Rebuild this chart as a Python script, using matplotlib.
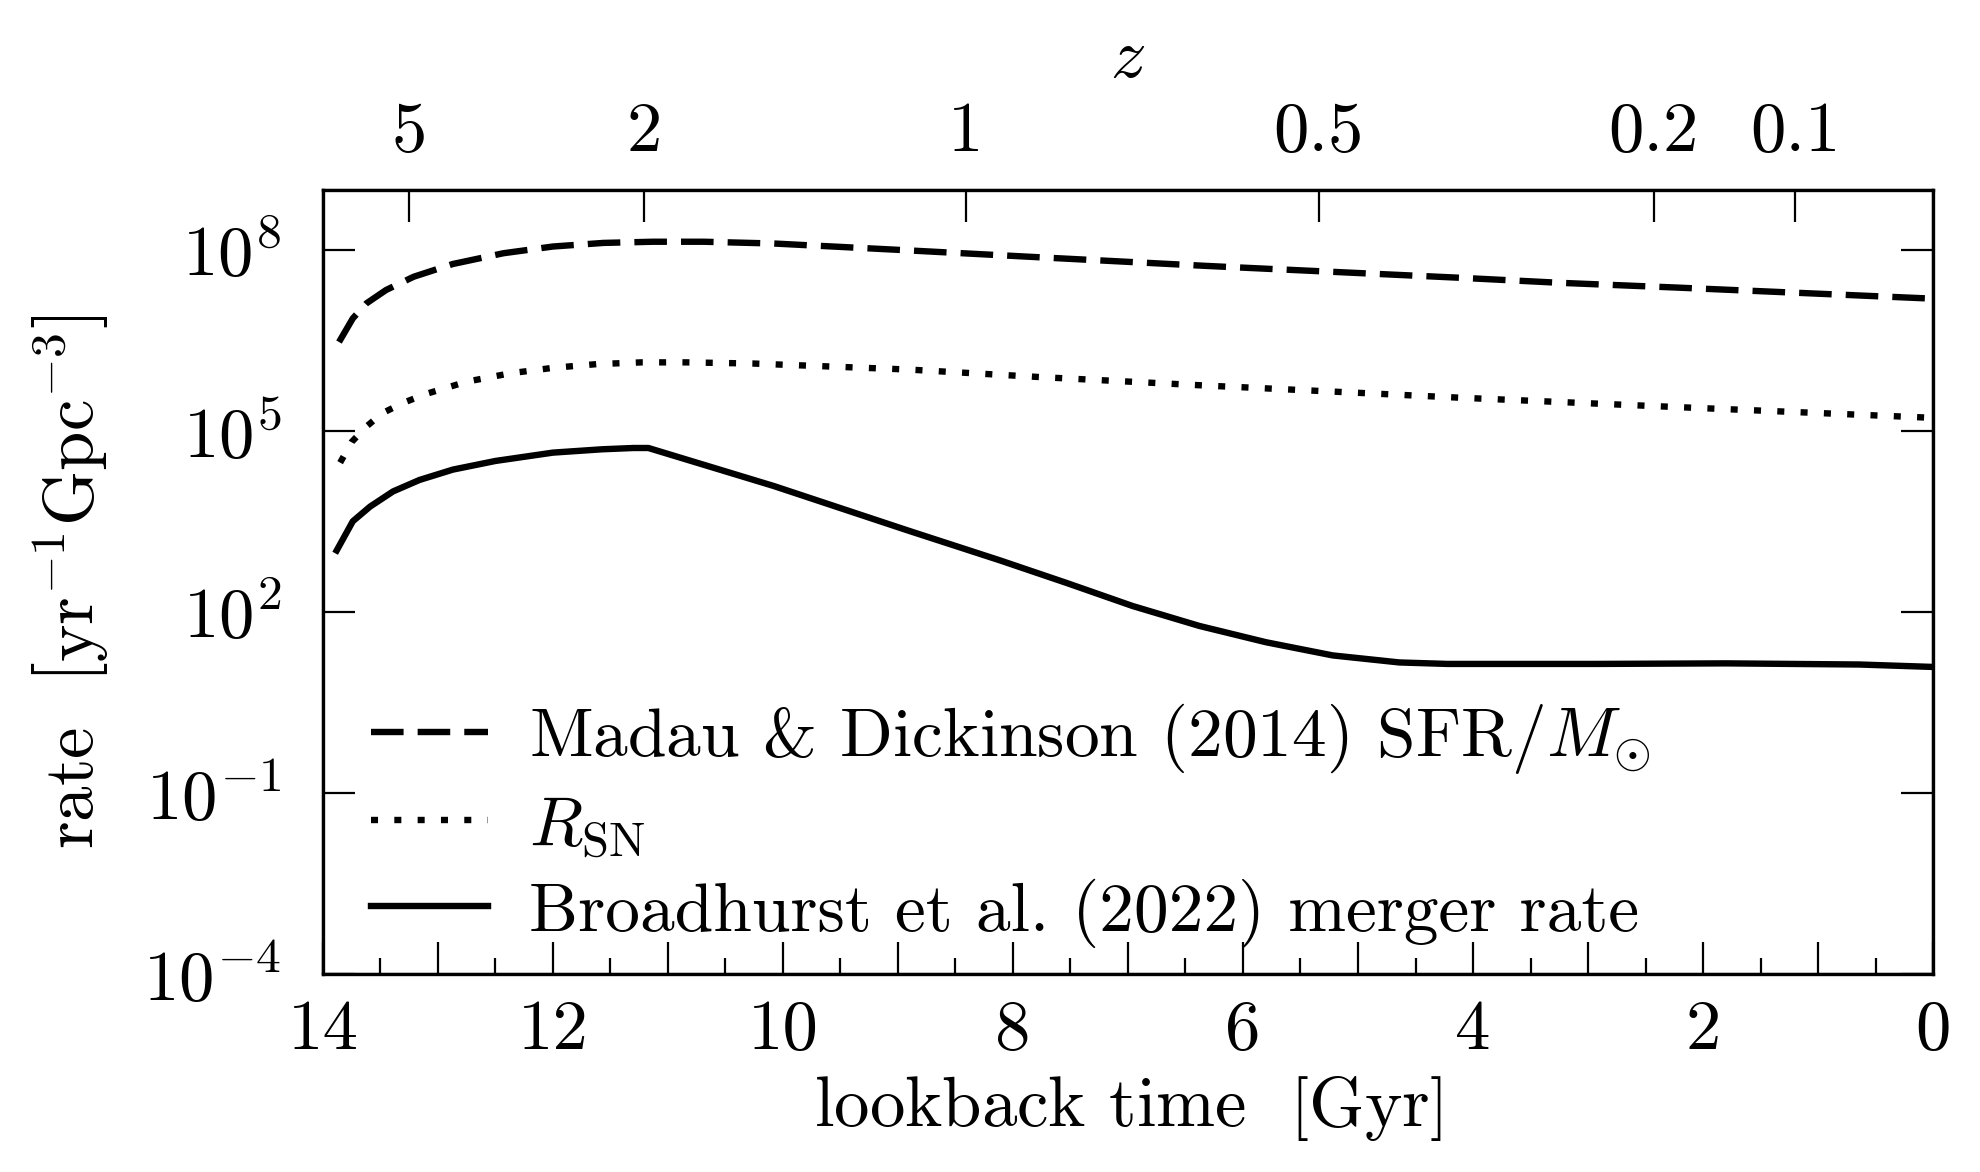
import matplotlib
matplotlib.use("Agg")
import matplotlib.pyplot as plt
from matplotlib.ticker import FixedLocator, MultipleLocator, FuncFormatter, LogFormatterMathtext, NullLocator

plt.rcParams['font.family'] = 'serif'
plt.rcParams['font.serif'] = ['cmr10']
plt.rcParams['mathtext.fontset'] = 'cm'
plt.rcParams['axes.formatter.use_mathtext'] = True
plt.rcParams['axes.unicode_minus'] = False

# ---------------- data ----------------
# Madau & Dickinson (2014) SFR / M_sun  [yr^-1 Gpc^-3]
sfr_t = [13.86, 13.74, 13.62, 13.45, 13.21, 12.87, 12.43, 12.00, 11.56, 11.13,
         10.69, 10.08, 9.03, 7.87, 6.33, 5.97, 4.09, 3.25, 2.23, 0.0]
sfr_rate = [3.0e6, 7.4e6, 1.32e7, 2.19e7, 3.63e7, 5.9e7, 8.9e7, 1.15e8, 1.32e8, 1.38e8,
            1.38e8, 1.29e8, 1.02e8, 7.8e7, 5.5e7, 5.1e7, 3.47e7, 2.88e7, 2.40e7, 1.57e7]

# R_SN
rsn_t = [13.85, 13.75, 13.62, 13.48, 13.30, 13.11, 12.75, 12.37, 12.00, 11.62,
         11.23, 10.84, 10.26, 8.91, 7.78, 6.25, 6.06, 4.14, 2.22, 0.0]
rsn_rate = [3.0e4, 6.6e4, 1.20e5, 2.0e5, 2.95e5, 4.1e5, 6.6e5, 9.1e5, 1.12e6, 1.29e6,
            1.38e6, 1.38e6, 1.32e6, 1.05e6, 7.9e5, 5.6e5, 5.4e5, 3.6e5, 2.5e5, 1.66e5]

# Broadhurst et al. (2022) merger rate
mrg_t = [13.88, 13.74, 13.59, 13.39, 13.16, 12.87, 12.50, 12.00, 11.57, 11.30,
         11.17, 10.08, 8.91, 8.11, 7.53, 6.96, 6.38, 5.80, 5.22, 4.64,
         4.22, 3.80, 2.93, 1.80, 0.64, 0.0]
mrg_rate = [1.05e3, 3.2e3, 5.6e3, 1.0e4, 1.55e4, 2.3e4, 3.2e4, 4.4e4, 5.0e4, 5.25e4,
            5.25e4, 1.23e4, 2.24e3, 716.0, 302.0, 126.0, 58.9, 31.6, 19.1, 14.6,
            13.8, 13.8, 13.8, 14.1, 13.5, 12.3]

# top redshift axis: labels and their lookback-time positions [Gyr]
z_labels = ['5', '2', '1', '0.5', '0.2', '0.1']
z_lookback = [13.25, 11.21, 8.41, 5.34, 2.43, 1.20]

y_ticks = [1e-4, 1e-1, 1e2, 1e5, 1e8]

labels = [r'Madau & Dickinson (2014) SFR$/M_{\odot}$',
          r'$R_{\mathrm{SN}}$',
          r'Broadhurst et al. (2022) merger rate']

# ---------------- figure ----------------
fig = plt.figure(figsize=(9.905, 5.86), dpi=200)
ax = fig.add_axes([0.163, 0.169, 0.8128, 0.669])

lw = 2.3
ax.plot(sfr_t, sfr_rate, color='black', lw=lw, dashes=(5.1, 2.2), label=labels[0])
ax.plot(rsn_t, rsn_rate, color='black', lw=lw, dashes=(1.1, 2.55), label=labels[1])
ax.plot(mrg_t, mrg_rate, color='black', lw=lw, label=labels[2])

ax.set_yscale('log')
ax.set_xlim(14, 0)
ax.set_ylim(1e-4, 1e9)

fs = 25.5
ax.yaxis.set_major_locator(FixedLocator(y_ticks))
ax.yaxis.set_major_formatter(LogFormatterMathtext())
ax.yaxis.set_minor_locator(NullLocator())
ax.xaxis.set_major_locator(MultipleLocator(1))
ax.xaxis.set_minor_locator(MultipleLocator(0.5))
ax.xaxis.set_major_formatter(FuncFormatter(
    lambda v, p: '%d' % int(round(v)) if int(round(v)) % 2 == 0 else ''))

ax.tick_params(axis='both', which='both', direction='in', labelsize=fs,
               top=False, right=True, width=0.8)
ax.tick_params(axis='both', which='major', length=11.5)
ax.tick_params(axis='x', which='major', pad=9)
ax.tick_params(axis='y', which='major', pad=15)
ax.tick_params(axis='x', which='minor', length=5.8)
for s in ax.spines.values():
    s.set_linewidth(1.2)

ax.set_xlabel(r'lookback time $\ \left[\mathrm{Gyr}\right]$', fontsize=fs, labelpad=4)
ax.set_ylabel(r'rate $\ \left[\mathrm{yr}^{-1}\mathrm{Gpc}^{-3}\right]$', fontsize=fs, labelpad=12)

ax2 = ax.twiny()
ax2.set_xlim(ax.get_xlim())
ax2.xaxis.set_major_locator(FixedLocator(z_lookback))
ax2.set_xticklabels(z_labels)
ax2.xaxis.set_minor_locator(NullLocator())
ax2.tick_params(axis='x', which='major', direction='in', length=11.5, width=0.8,
                labelsize=fs, pad=9)
ax2.set_xlabel(r'$z$', fontsize=fs, labelpad=8.5)

leg = ax.legend(loc='lower left', bbox_to_anchor=(0.004, -0.02), frameon=False,
                fontsize=25, handlelength=1.68, handletextpad=0.6, labelspacing=0.27,
                borderaxespad=0.2)

fig.savefig('out.png', dpi=200)
